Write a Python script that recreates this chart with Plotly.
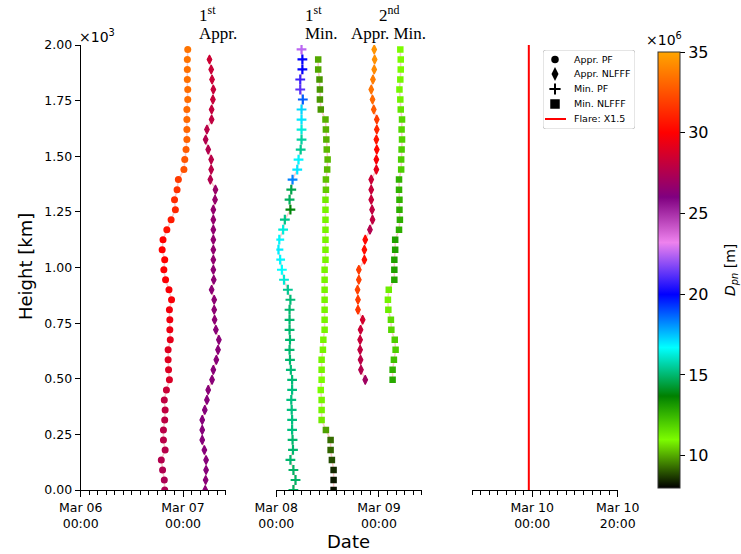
import pandas as pd
import plotly.graph_objects as go

W, H = 741, 554

# ---------------- data ----------------
# heights in km (top to bottom)
H45 = [1980, 1935, 1890, 1845, 1800, 1755, 1710, 1665, 1620, 1575, 1530, 1485, 1440, 1395, 1350,
       1305, 1260, 1215, 1170, 1125, 1080, 1035, 990, 945, 900, 855, 810, 765, 720, 675,
       630, 585, 540, 495, 450, 405, 360, 315, 270, 225, 180, 135, 90, 45, 0]
H44 = [1935, 1890, 1845, 1800, 1755, 1710, 1665, 1620, 1575, 1530, 1485, 1440, 1395, 1350,
       1305, 1260, 1215, 1170, 1125, 1080, 1035, 990, 945, 900, 855, 810, 765, 720, 675,
       630, 585, 540, 495, 450, 405, 360, 315, 270, 225, 180, 135, 90, 45, 0]
H34 = [1980, 1935, 1890, 1845, 1800, 1755, 1710, 1665, 1620, 1575, 1530, 1485, 1440, 1395, 1350,
       1305, 1260, 1215, 1170, 1125, 1080, 1035, 990, 945, 900, 855, 810, 765, 720, 675,
       630, 585, 540, 495]

# 1st approach (hours after 2011-03-06 00:00)
appr_pf_1_hours = [25.1, 25.0, 25.0, 25.0, 25.1, 25.1, 24.9, 24.9, 24.9, 24.9,
                   24.7, 24.4, 24.2, 22.9, 22.6, 22.0, 22.2, 21.2, 20.2, 19.3,
                   19.1, 19.7, 19.5, 19.9, 20.7, 21.3, 20.8, 20.9, 20.9, 21.0,
                   20.5, 20.5, 20.6, 20.8, 20.1, 19.6, 19.8, 19.7, 19.4, 19.4,
                   19.8, 18.9, 19.2, 19.6, 19.7]
appr_pf_1_dpn = [33.5, 33.5, 33.4, 33.4, 33.3, 33.3, 33.2, 33.2, 33.1, 33.0,
                 32.8, 32.6, 32.5, 31.8, 31.5, 31.3, 31.2, 30.8, 30.5, 30.0,
                 30.0, 30.0, 29.9, 29.9, 29.8, 29.8, 29.6, 29.5, 29.4, 29.2,
                 29.0, 29.0, 28.9, 28.8, 28.3, 28.0, 28.0, 27.9, 27.8, 27.8,
                 27.7, 27.6, 27.5, 27.4, 27.4]
appr_nlfff_1_hours = [30.2, 30.6, 30.8, 31.1, 31.0, 30.7, 30.7, 29.6, 29.3, 29.9,
                      30.6, 30.6, 30.4, 31.6, 31.5, 31.1, 31.1, 31.1, 31.1, 31.1,
                      31.1, 31.1, 31.2, 30.7, 31.3, 31.3, 31.4, 31.7, 32.4, 32.2,
                      31.8, 31.1, 30.8, 29.9, 29.6, 29.1, 28.5, 28.5, 28.5, 29.0,
                      29.4, 29.4, 29.3, 29.2]
appr_nlfff_1_dpn = [28.4, 28.3, 28.3, 28.2, 28.2, 28.1, 28.0, 27.8, 27.6, 27.6,
                    27.8, 27.8, 27.6, 26.8, 26.7, 26.6, 26.6, 26.5, 26.5, 26.5,
                    26.5, 26.4, 26.4, 26.4, 26.4, 26.4, 26.4, 26.3, 26.3, 26.3,
                    26.3, 26.3, 26.3, 26.3, 26.2, 26.2, 26.2, 26.2, 26.2, 26.2,
                    26.2, 26.2, 26.3, 26.3]

# minima and 2nd approach (hours after 2011-03-08 00:00)
min_pf_1_hours = [5.9, 6.1, 6.1, 5.6, 5.6, 6.2, 5.9, 5.9, 5.9, 5.9,
                  5.7, 5.2, 4.9, 3.8, 3.5, 3.1, 3.3, 2.0, 1.6, 0.7,
                  0.5, 0.9, 1.3, 1.8, 2.7, 3.3, 3.1, 3.1, 3.1, 3.2,
                  3.1, 3.2, 3.4, 3.7, 3.7, 3.5, 3.6, 3.7, 3.7, 3.8,
                  3.9, 3.3, 4.0, 4.5, 4.0]
min_pf_1_dpn = [22.5, 20.0, 20.0, 20.8, 21.2, 18.8, 17.2, 17.0, 16.3, 15.6,
                15.4, 16.8, 17.0, 18.3, 14.6, 14.8, 13.8, 15.3, 16.3, 16.8,
                16.9, 16.8, 16.7, 16.2, 15.4, 15.1, 15.0, 15.0, 15.0, 15.0,
                15.0, 15.0, 15.1, 15.1, 15.2, 15.2, 15.2, 15.2, 15.2, 15.0,
                15.0, 15.0, 14.9, 14.9, 14.8]
min_nlfff_1_hours = [9.8, 9.8, 10.1, 10.2, 10.2, 10.4, 11.5, 11.6, 11.7, 11.8,
                     12.0, 11.9, 11.6, 11.6, 11.5, 11.5, 11.5, 11.5, 11.5, 11.5,
                     11.5, 11.3, 11.3, 11.3, 11.3, 11.3, 11.3, 11.3, 11.0, 10.9,
                     10.6, 10.6, 10.6, 10.4, 10.6, 10.6, 10.6, 11.6, 12.7, 12.7,
                     13.0, 13.4, 13.4, 13.4]
min_nlfff_1_dpn = [10.0, 10.0, 9.8, 9.8, 9.8, 9.8, 10.1, 10.1, 10.1, 10.2,
                   10.2, 10.2, 10.3, 10.4, 10.8, 10.9, 10.9, 10.9, 10.9, 10.9,
                   10.9, 10.9, 10.9, 10.9, 10.9, 10.9, 10.9, 10.9, 10.9, 10.9,
                   10.9, 10.9, 11.0, 11.0, 10.9, 10.9, 10.8, 9.9, 9.3, 9.2,
                   8.9, 8.5, 8.3, 8.2]
appr_nlfff_2_hours = [22.9, 23.0, 22.9, 22.6, 22.2, 22.5, 22.8, 23.5, 23.5, 23.4,
                      23.5, 23.4, 23.4, 22.2, 22.2, 22.2, 22.4, 22.5, 21.9, 20.8,
                      20.6, 20.6, 19.3, 19.3, 19.0, 19.1, 19.1, 20.2, 19.7, 19.6,
                      19.6, 19.7, 19.8, 20.8]
appr_nlfff_2_dpn = [34.5, 34.4, 34.2, 33.8, 33.5, 33.2, 32.8, 31.8, 31.2, 30.6,
                    30.2, 29.8, 29.2, 28.3, 28.2, 28.2, 28.0, 28.0, 27.6, 30.2,
                    30.4, 30.4, 31.8, 31.9, 32.0, 31.8, 31.6, 28.6, 28.3, 28.2,
                    28.0, 27.8, 27.6, 27.0]
min_nlfff_2_hours = [29.0, 29.1, 29.1, 29.0, 28.8, 29.0, 29.1, 29.4, 29.3, 29.4,
                     29.3, 29.2, 29.2, 28.7, 28.7, 28.8, 28.8, 28.9, 28.7, 27.8,
                     27.8, 27.6, 27.6, 27.6, 26.3, 26.1, 26.2, 26.8, 26.9, 27.7,
                     27.9, 27.5, 27.2, 27.2]
min_nlfff_2_dpn = [11.0, 11.0, 11.0, 11.1, 11.1, 11.2, 11.5, 11.8, 11.8, 11.9,
                   12.0, 12.0, 12.0, 12.6, 12.6, 12.6, 12.7, 12.7, 12.7, 13.0,
                   13.0, 13.0, 13.0, 12.9, 11.3, 11.2, 11.3, 11.7, 11.8, 12.0,
                   12.0, 12.3, 12.6, 12.8]

FLARE_TIME = "2011-03-09 23:13"
DPN_MIN, DPN_MAX = 8.0, 35.0
CB_TICKS = [10, 15, 20, 25, 30, 35]
Y_TICKS = [0, 250, 500, 750, 1000, 1250, 1500, 1750, 2000]
Y_TICKTEXT = ["0.00", "0.25", "0.50", "0.75", "1.00", "1.25", "1.50", "1.75", "2.00"]
LEGEND_LABELS = ["Appr. PF", "Appr. NLFFF", "Min. PF", "Min. NLFFF", "Flare: X1.5"]
LEGEND_SYMBOLS = ["circle", "diamond-tall", "cross-thin", "square"]


def to_time(base, hours):
    return [pd.Timestamp(base) + pd.to_timedelta(h, unit="h") for h in hours]


def px(x):
    return x / W


def py(y):
    return 1 - y / H


colorscale = [
    [0.000, "rgb(0,0,0)"],
    [0.111, "rgb(124,252,0)"],
    [0.211, "rgb(0,128,0)"],
    [0.322, "rgb(0,255,255)"],
    [0.444, "rgb(0,0,255)"],
    [0.563, "rgb(238,130,238)"],
    [0.667, "rgb(128,0,128)"],
    [0.815, "rgb(255,0,0)"],
    [1.000, "rgb(255,165,0)"],
]

LINE = dict(color="rgba(250,160,160,0.55)", width=1.5)

fig = go.Figure()


def add_series(xaxis, base, hours, heights, dpn, symbol, size, lw=0):
    if symbol == "cross-thin":
        marker = dict(symbol=symbol, size=size,
                      line=dict(color=dpn, coloraxis="coloraxis", width=2.2))
    else:
        marker = dict(symbol=symbol, size=size, color=dpn, coloraxis="coloraxis",
                      line=dict(color=dpn, coloraxis="coloraxis", width=lw))
    fig.add_trace(go.Scatter(
        x=to_time(base, hours), y=heights, mode="lines+markers",
        line=LINE, marker=marker, xaxis=xaxis, yaxis="y", showlegend=False,
    ))


add_series("x", "2011-03-06", appr_pf_1_hours, H45, appr_pf_1_dpn, "circle", 7)
add_series("x", "2011-03-06", appr_nlfff_1_hours, H44, appr_nlfff_1_dpn, "diamond-tall", 6.5, 1.2)
add_series("x2", "2011-03-08", min_pf_1_hours, H45, min_pf_1_dpn, "cross-thin", 7)
add_series("x2", "2011-03-08", min_nlfff_1_hours, H44, min_nlfff_1_dpn, "square", 6.5)
add_series("x2", "2011-03-08", appr_nlfff_2_hours, H34, appr_nlfff_2_dpn, "diamond-tall", 6.5, 1.2)
add_series("x2", "2011-03-08", min_nlfff_2_hours, H34, min_nlfff_2_dpn, "square", 6.5)

# flare line
fig.add_trace(go.Scatter(x=[FLARE_TIME, FLARE_TIME], y=[0, 2000], mode="lines",
                         line=dict(color="red", width=2), xaxis="x3", yaxis="y",
                         name="Flare: X1.5", showlegend=False))

# ---- legend (drawn on a hidden helper axis measured in pixels) ----
LEG_X0, LEG_X1, LEG_Y0, LEG_Y1 = 543, 635, 50, 129
leg_rows = [59.5, 74, 89, 104, 119]
leg_sizes = [7.5, 10, 8, 9.5]
for i, sym in enumerate(LEGEND_SYMBOLS):
    mk = dict(symbol=sym, size=leg_sizes[i], color="black")
    if sym == "cross-thin":
        mk["line"] = dict(color="black", width=2)
    fig.add_trace(go.Scatter(x=[555], y=[leg_rows[i]], mode="markers", marker=mk,
                             xaxis="x4", yaxis="y4", showlegend=False, hoverinfo="skip"))
fig.add_trace(go.Scatter(x=[545, 566], y=[leg_rows[4], leg_rows[4]], mode="lines",
                         line=dict(color="red", width=2), xaxis="x4", yaxis="y4",
                         showlegend=False, hoverinfo="skip"))

FONT = "DejaVu Sans"
tickfont = dict(family=FONT, size=12.5, color="black")


def xaxis_cfg(x0, x1, r0, r1, tickvals, ticktext, tick0):
    return dict(
        domain=[px(x0), px(x1)], range=[r0, r1], type="date", anchor="y",
        automargin=False,
        showline=True, linecolor="black", linewidth=1.2, showgrid=False, zeroline=False,
        ticks="outside", ticklen=6, tickwidth=1.2, tickcolor="black",
        tickvals=tickvals, ticktext=ticktext, tickfont=tickfont,
        minor=dict(ticks="outside", ticklen=3.5, tickwidth=1, tickcolor="black",
                   dtick=2 * 3600 * 1000, tick0=tick0, showgrid=False),
    )


fig.update_layout(
    width=W, height=H, autosize=False,
    margin=dict(l=0, r=0, t=0, b=0, pad=0, autoexpand=False),
    paper_bgcolor="white", plot_bgcolor="white",
    showlegend=False,
    xaxis=xaxis_cfg(80.7, 225.7, "2011-03-06 00:00", "2011-03-07 10:00",
                    ["2011-03-06 00:00", "2011-03-07 00:00"],
                    ["Mar 06<br>00:00", "Mar 07<br>00:00"], "2011-03-06"),
    xaxis2=xaxis_cfg(276.3, 421.7, "2011-03-08 00:00", "2011-03-09 10:00",
                     ["2011-03-08 00:00", "2011-03-09 00:00"],
                     ["Mar 08<br>00:00", "Mar 09<br>00:00"], "2011-03-08"),
    xaxis3=xaxis_cfg(472.3, 617.7, "2011-03-09 10:00", "2011-03-10 20:00",
                     ["2011-03-10 00:00", "2011-03-10 20:00"],
                     ["Mar 10<br>00:00", "Mar 10<br>20:00"], "2011-03-09"),
    yaxis=dict(
        domain=[py(490), py(45)], range=[0, 2000], anchor="x", automargin=False,
        showline=True, linecolor="black", linewidth=1.2, showgrid=False, zeroline=False,
        ticks="outside", ticklen=5, tickwidth=1.2, tickcolor="black",
        tickvals=Y_TICKS, ticktext=Y_TICKTEXT, tickfont=tickfont,
    ),
    xaxis4=dict(domain=[px(LEG_X0), px(LEG_X1)], range=[LEG_X0, LEG_X1], visible=False,
                anchor="y4", fixedrange=True, automargin=False),
    yaxis4=dict(domain=[py(LEG_Y1), py(LEG_Y0)], range=[LEG_Y1, LEG_Y0], visible=False,
                anchor="x4", fixedrange=True, automargin=False),
    coloraxis=dict(
        colorscale=colorscale, cmin=DPN_MIN, cmax=DPN_MAX,
        colorbar=dict(
            x=px(658), xanchor="left", xref="paper", xpad=0, ypad=0,
            y=py(270), yanchor="middle", len=(488 - 52.5) / H, lenmode="fraction",
            thickness=22, thicknessmode="pixels",
            outlinecolor="#333", outlinewidth=1,
            tickvals=CB_TICKS, ticktext=[str(v) for v in CB_TICKS],
            ticks="outside", ticklen=5, tickcolor="black",
            tickfont=dict(family=FONT, size=16, color="black"),
        ),
    ),
    shapes=[dict(type="path", xref="x4", yref="y4", layer="below",
                 path=f"M {LEG_X0+3},{LEG_Y0} L {LEG_X1-3},{LEG_Y0} Q {LEG_X1},{LEG_Y0} {LEG_X1},{LEG_Y0+3} "
                      f"L {LEG_X1},{LEG_Y1-3} Q {LEG_X1},{LEG_Y1} {LEG_X1-3},{LEG_Y1} "
                      f"L {LEG_X0+3},{LEG_Y1} Q {LEG_X0},{LEG_Y1} {LEG_X0},{LEG_Y1-3} "
                      f"L {LEG_X0},{LEG_Y0+3} Q {LEG_X0},{LEG_Y0} {LEG_X0+3},{LEG_Y0} Z",
                 line=dict(color="#cccccc", width=1), fillcolor="white")],
)

SERIF = "Liberation Serif"
ann = []
for i, lab in enumerate(LEGEND_LABELS):
    ann.append(dict(text=lab, x=572, y=leg_rows[i], xref="x4", yref="y4",
                    xanchor="left", yanchor="middle",
                    font=dict(family=FONT, size=9.5, color="black")))
paper = []
paper.append(dict(text="×10<sup>3</sup>", x=px(77), y=py(36), xanchor="left", yanchor="middle",
                  font=dict(family=FONT, size=14, color="black")))
paper.append(dict(text="×10<sup>6</sup>", x=px(644), y=py(39), xanchor="left", yanchor="middle",
                  font=dict(family=FONT, size=14, color="black")))
paper.append(dict(text="Height [km]", x=px(25), y=py(267), textangle=-90,
                  xanchor="center", yanchor="middle",
                  font=dict(family=FONT, size=18, color="black")))
paper.append(dict(text="Date", x=px(348), y=py(541), xanchor="center", yanchor="middle",
                  font=dict(family=FONT, size=18, color="black")))
paper.append(dict(text="<i>D<sub>pn</sub></i> [m]", x=px(731), y=py(270), textangle=-90,
                  xanchor="center", yanchor="middle",
                  font=dict(family=FONT, size=14, color="black")))
# panel titles
for txt, x, y, xa in [("1<sup>st</sup>", 197, 14, "left"), ("Appr.", 197, 34, "left"),
                      ("1<sup>st</sup>", 303, 14, "left"), ("Min.", 303, 34, "left"),
                      ("2<sup>nd</sup>", 389, 14, "center"), ("Appr. Min.", 389, 34, "center")]:
    paper.append(dict(text=txt, x=px(x), y=py(y), xanchor=xa, yanchor="middle",
                      font=dict(family=SERIF, size=17, color="black")))
for a in paper:
    a.update(xref="paper", yref="paper")
ann += paper
for a in ann:
    a.update(showarrow=False)
fig.update_layout(annotations=ann)

fig.write_html("out.html", config={"displayModeBar": False},
               post_script="document.body.style.margin='0';")
